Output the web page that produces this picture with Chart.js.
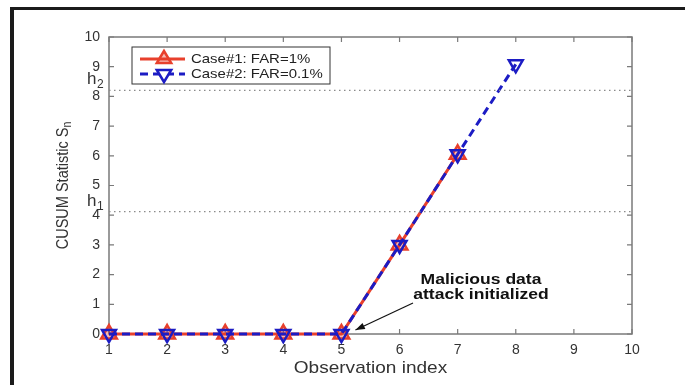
<!DOCTYPE html>
<html>
<head>
<meta charset="utf-8">
<script src="https://cdn.jsdelivr.net/npm/chart.js@4"></script>
<style>
  html, body { margin: 0; padding: 0; background: #fff; }
  #wrap { width: 685px; height: 385px; position: relative; }
</style>
</head>
<body>
<div id="wrap"><canvas id="cusumChart"></canvas></div>
<script>
// observation indices and CUSUM values
const obsCase1 = [1, 2, 3, 4, 5, 6, 7];
const cusumCase1 = [0, 0, 0, 0, 0, 3.0, 6.05];
const obsCase2 = [1, 2, 3, 4, 5, 6, 7, 8];
const cusumCase2 = [0, 0, 0, 0, 0, 3.0, 6.05, 9.08];
const xTicks = [1, 2, 3, 4, 5, 6, 7, 8, 9, 10];
const yTicks = [0, 1, 2, 3, 4, 5, 6, 7, 8, 9, 10];
const thresholdNames = ['1', '2'];
const thresholdValues = [4.12, 8.2];
const legendLabels = ['Case#1: FAR=1%', 'Case#2: FAR=0.1%'];

const FONT = "'Liberation Sans', Arial, sans-serif";
const RED = '#e8402c';
const BLUE = '#1c1cc4';

function toPoints(xs, ys) {
    return ys.map((y, i) => ({ x: xs[i], y: y }));
}

const thresholdSets = thresholdValues.map((v, i) => ({
    label: 'h' + thresholdNames[i],
    data: [{ x: xTicks[0], y: v }, { x: xTicks[xTicks.length - 1], y: v }],
    borderColor: '#8a8a8a',
    borderWidth: 1.3,
    borderDash: [1.5, 3.5],
    pointRadius: 0,
    clip: false
}));

const framePlugin = {
    id: 'frame',
    beforeDraw(chart) {
        const ctx = chart.ctx;
        ctx.save();
        ctx.fillStyle = '#fff';
        ctx.fillRect(0, 0, chart.width, chart.height);
        ctx.fillStyle = '#1b1b1b';
        ctx.fillRect(10, 7, chart.width - 10, 3);
        ctx.fillRect(10, 7, 4, chart.height - 7);
        ctx.restore();
    },
    beforeDatasetsDraw(chart) {
        const ctx = chart.ctx;
        const a = chart.chartArea;
        const xs = chart.scales.x, ys = chart.scales.y;
        ctx.save();
        ctx.strokeStyle = '#7a7a7a';
        ctx.lineWidth = 1.5;
        ctx.strokeRect(a.left, a.top, a.right - a.left, a.bottom - a.top);
        ctx.lineWidth = 1.2;
        ctx.beginPath();
        xTicks.forEach(t => {
            const px = xs.getPixelForValue(t);
            ctx.moveTo(px, a.bottom); ctx.lineTo(px, a.bottom - 5);
            ctx.moveTo(px, a.top); ctx.lineTo(px, a.top + 5);
        });
        yTicks.forEach(t => {
            const py = ys.getPixelForValue(t);
            ctx.moveTo(a.left, py); ctx.lineTo(a.left + 5, py);
            ctx.moveTo(a.right, py); ctx.lineTo(a.right - 5, py);
        });
        ctx.stroke();

        // threshold labels h1, h2
        ctx.fillStyle = '#333';
        ctx.textBaseline = 'alphabetic';
        thresholdValues.forEach((v, i) => {
            const py = ys.getPixelForValue(v);
            ctx.font = '17px ' + FONT;
            ctx.textAlign = 'left';
            ctx.fillText('h', 87, py - 6);
            ctx.font = '12px ' + FONT;
            ctx.fillText(thresholdNames[i], 97, py - 2);
        });
        ctx.restore();
    },
    afterDraw(chart) {
        const ctx = chart.ctx;
        const a = chart.chartArea;
        const xs = chart.scales.x, ys = chart.scales.y;
        ctx.save();
        ctx.fillStyle = '#333';

        // x axis title
        ctx.font = '17px ' + FONT;
        ctx.textAlign = 'center';
        ctx.textBaseline = 'middle';
        ctx.save();
        ctx.translate((a.left + a.right) / 2, 368);
        ctx.scale(1.12, 1);
        ctx.fillText('Observation index', 0, 0);
        ctx.restore();

        // y axis title with subscript
        ctx.save();
        ctx.translate(63, (a.top + a.bottom) / 2);
        ctx.rotate(-Math.PI / 2);
        ctx.scale(1, 1.15);
        ctx.font = '14.5px ' + FONT;
        const main = 'CUSUM Statistic S';
        const w = ctx.measureText(main).width;
        ctx.font = '10.5px ' + FONT;
        const ws = ctx.measureText('n').width;
        const start = -(w + ws) / 2;
        ctx.textAlign = 'left';
        ctx.font = '14.5px ' + FONT;
        ctx.fillText(main, start, 0);
        ctx.font = '10.5px ' + FONT;
        ctx.fillText('n', start + w, 4);
        ctx.restore();

        // annotation
        ctx.fillStyle = '#111';
        ctx.font = 'bold 15px ' + FONT;
        ctx.textAlign = 'center';
        ctx.textBaseline = 'middle';
        ctx.save();
        ctx.translate(481, 280);
        ctx.scale(1.17, 1);
        ctx.fillText('Malicious data', 0, 0);
        ctx.fillText('attack initialized', 0, 15);
        ctx.restore();

        // arrow pointing at observation 5
        const tipX = xs.getPixelForValue(5) + 14;
        const tipY = ys.getPixelForValue(0) - 4;
        const fromX = 413, fromY = 303;
        const ang = Math.atan2(tipY - fromY, tipX - fromX);
        ctx.strokeStyle = '#111';
        ctx.lineWidth = 1.2;
        ctx.beginPath();
        ctx.moveTo(fromX, fromY);
        ctx.lineTo(tipX, tipY);
        ctx.stroke();
        ctx.beginPath();
        ctx.moveTo(tipX, tipY);
        ctx.lineTo(tipX - 10 * Math.cos(ang - 0.35), tipY - 10 * Math.sin(ang - 0.35));
        ctx.lineTo(tipX - 10 * Math.cos(ang + 0.35), tipY - 10 * Math.sin(ang + 0.35));
        ctx.closePath();
        ctx.fillStyle = '#111';
        ctx.fill();

        // legend box
        const lx = 132, ly = 47, lw = 198, lh = 37;
        ctx.fillStyle = '#fff';
        ctx.fillRect(lx, ly, lw, lh);
        ctx.strokeStyle = '#333';
        ctx.lineWidth = 1;
        ctx.strokeRect(lx, ly, lw, lh);
        const rows = [chart.data.datasets[0], chart.data.datasets[1]];
        rows.forEach((ds, i) => {
            const y = ly + 12 + i * 15;
            ctx.strokeStyle = ds.borderColor;
            ctx.lineWidth = 3;
            ctx.setLineDash(ds.borderDash || []);
            ctx.beginPath();
            ctx.moveTo(lx + 8, y);
            ctx.lineTo(lx + 53, y);
            ctx.stroke();
            ctx.setLineDash([]);
            // marker
            ctx.lineWidth = 2.5;
            ctx.fillStyle = i === 0 ? 'rgba(232,64,44,0.35)' : '#fff';
            const cx = lx + 32, r = 8;
            const dir = i === 0 ? -1 : 1;
            ctx.beginPath();
            ctx.moveTo(cx, y + dir * r);
            ctx.lineTo(cx - r * 0.9, y - dir * r * 0.5);
            ctx.lineTo(cx + r * 0.9, y - dir * r * 0.5);
            ctx.closePath();
            ctx.fill();
            ctx.stroke();
            ctx.fillStyle = '#222';
            ctx.font = '13px ' + FONT;
            ctx.textAlign = 'left';
            ctx.textBaseline = 'middle';
            ctx.save();
            ctx.translate(lx + 59, y);
            ctx.scale(1.15, 1);
            ctx.fillText(legendLabels[i], 0, 0);
            ctx.restore();
        });
        ctx.restore();
    }
};

new Chart(document.getElementById('cusumChart'), {
    type: 'line',
    data: {
        datasets: [
            {
                label: legendLabels[0],
                data: toPoints(obsCase1, cusumCase1),
                borderColor: RED,
                backgroundColor: 'rgba(232,64,44,0.35)',
                borderWidth: 3,
                pointStyle: 'triangle',
                pointRadius: 9,
                pointBorderWidth: 2.5,
                pointBorderColor: RED,
                pointBackgroundColor: 'rgba(232,64,44,0.35)',
                clip: false,
                order: 2
            },
            {
                label: legendLabels[1],
                data: toPoints(obsCase2, cusumCase2),
                borderColor: BLUE,
                backgroundColor: '#fff',
                borderWidth: 3,
                borderDash: [8, 5],
                pointStyle: 'triangle',
                pointRotation: 180,
                pointRadius: 8,
                pointBorderWidth: 2.5,
                pointBorderColor: BLUE,
                pointBackgroundColor: 'rgba(255,255,255,0)',
                clip: false,
                order: 1
            },
            ...thresholdSets
        ]
    },
    options: {
        responsive: true,
        maintainAspectRatio: false,
        animation: false,
        layout: { padding: { left: 0, right: 53, top: 37, bottom: 0 } },
        plugins: {
            legend: { display: false },
            tooltip: { enabled: false }
        },
        scales: {
            x: {
                type: 'linear',
                min: 1,
                max: 10,
                grid: { display: false, drawTicks: false },
                border: { display: false },
                afterFit(scale) { scale.height = 51; },
                afterBuildTicks(scale) { scale.ticks = xTicks.map(v => ({ value: v })); },
                ticks: {
                    padding: 8,
                    color: '#333',
                    font: { family: FONT, size: 14 },
                    maxRotation: 0
                }
            },
            y: {
                min: 0,
                max: 10,
                grid: { display: false, drawTicks: false },
                border: { display: false },
                afterFit(scale) { scale.width = 109; },
                afterBuildTicks(scale) { scale.ticks = yTicks.map(v => ({ value: v })); },
                ticks: {
                    padding: 9,
                    color: '#333',
                    font: { family: FONT, size: 14 }
                }
            }
        }
    },
    plugins: [framePlugin]
});
</script>
</body>
</html>
